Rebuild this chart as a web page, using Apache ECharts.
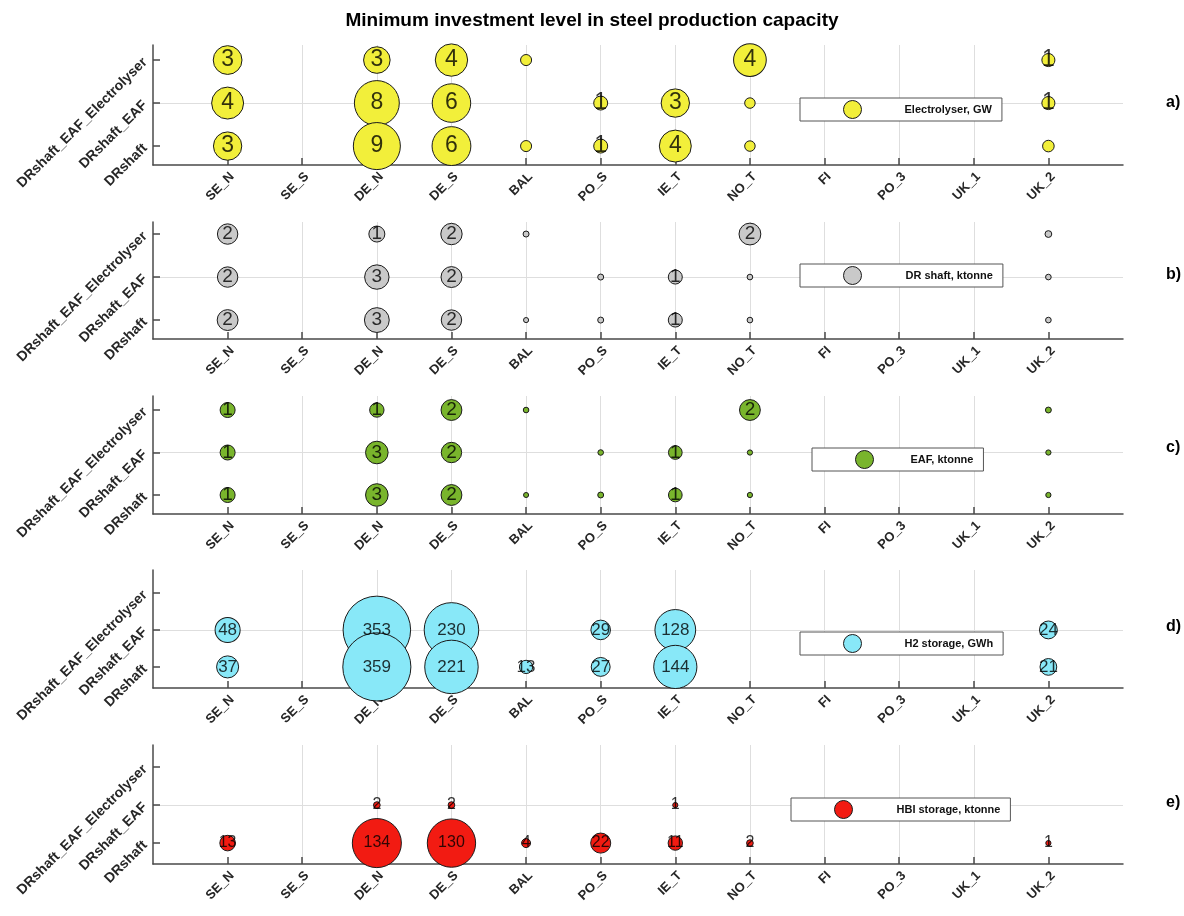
<!DOCTYPE html>
<html>
<head>
<meta charset="utf-8">
<title>Minimum investment level in steel production capacity</title>
<script src="https://cdn.jsdelivr.net/npm/echarts@6/dist/echarts.min.js"></script>
<style>
  html, body { margin: 0; padding: 0; background: #fff; }
  #chart { width: 1184px; height: 916px; }
</style>
</head>
<body>
<div id="chart"></div>
<script>
// Regions on the x axis and technology routes on the y axis
const regions = ['SE_N', 'SE_S', 'DE_N', 'DE_S', 'BAL', 'PO_S', 'IE_T', 'NO_T', 'FI', 'PO_3', 'UK_1', 'UK_2'];
const routes = ['DRshaft', 'DRshaft_EAF', 'DRshaft_EAF_Electrolyser'];

// a) Electrolyser, GW  (null = no investment)
const elecDRshaft     = [3.2, null, 9.0, 6.1, 0.4, 0.7, 4.1, 0.35, null, null, null, 0.45];
const elecDRshaftEAF  = [4.1, null, 8.2, 6.0, null, 0.7, 3.2, 0.35, null, null, null, 0.6];
const elecDRshaftEAFE = [3.3, null, 2.8, 4.2, 0.4, null, null, 4.3, null, null, null, 0.6];

// b) DR shaft, ktonne
const shaftDRshaft     = [2.1, null, 3.0, 2.0, 0.05, 0.1, 0.9, 0.08, null, null, null, 0.08];
const shaftDRshaftEAF  = [2.0, null, 2.9, 2.1, null, 0.1, 0.9, 0.08, null, null, null, 0.08];
const shaftDRshaftEAFE = [2.0, null, 1.2, 2.2, 0.1, null, null, 2.3, null, null, null, 0.15];

// c) EAF, ktonne
const eafDRshaft     = [1.1, null, 2.6, 2.2, 0.05, 0.1, 0.9, 0.06, null, null, null, 0.06];
const eafDRshaftEAF  = [1.1, null, 2.6, 2.1, null, 0.08, 0.9, 0.06, null, null, null, 0.06];
const eafDRshaftEAFE = [1.1, null, 1.0, 2.2, 0.08, null, null, 2.2, null, null, null, 0.1];

// d) H2 storage, GWh
const h2DRshaft     = [37, null, 359, 221, 13, 27, 144, null, null, null, null, 21];
const h2DRshaftEAF  = [48, null, 353, 230, null, 29, 128, null, null, null, null, 24];
const h2DRshaftEAFE = [null, null, null, null, null, null, null, null, null, null, null, null];

// e) HBI storage, ktonne
const hbiDRshaft     = [13, null, 134, 130, 4, 22, 11, 2, null, null, null, 1];
const hbiDRshaftEAF  = [null, null, 2, 2, null, null, 1, null, null, null, null, null];
const hbiDRshaftEAFE = [null, null, null, null, null, null, null, null, null, null, null, null];

const panelNames = ['Electrolyser, GW', 'DR shaft, ktonne', 'EAF, ktonne', 'H2 storage, GWh', 'HBI storage, ktonne'];
const panelTags = ['a)', 'b)', 'c)', 'd)', 'e)'];
const panelRows = [
  [elecDRshaft, elecDRshaftEAF, elecDRshaftEAFE],
  [shaftDRshaft, shaftDRshaftEAF, shaftDRshaftEAFE],
  [eafDRshaft, eafDRshaftEAF, eafDRshaftEAFE],
  [h2DRshaft, h2DRshaftEAF, h2DRshaftEAFE],
  [hbiDRshaft, hbiDRshaftEAF, hbiDRshaftEAFE]
];

// ---- styling / layout ----
const FONT = '"Liberation Sans", Arial, Helvetica, sans-serif';
const fills = ['#f2ef3a', '#c9c9c9', '#79b52c', '#88e8f8', '#f21b12'];
const EDGE = '#1a1a1a';
// bubble diameter: d = sqrt(d0^2 + c * value)
const sizeParams = [[5, 243], [4, 200], [4, 190], [3, 12.9], [3, 17.9]];
const labelSizes = [23, 19, 19, 17, 16];
const grids = [
  { top: 45, height: 120, min: 0.56, max: 3.35 },
  { top: 222, height: 117, min: 0.56, max: 3.28 },
  { top: 396, height: 118, min: 0.553, max: 3.33 },
  { top: 570, height: 118, min: 0.43, max: 3.62 },
  { top: 745, height: 119, min: 0.45, max: 3.58 }
];
const legendBoxes = [
  { left: 800, top: 98, gap: 38 },
  { left: 800, top: 264, gap: 39 },
  { left: 812, top: 448, gap: 32 },
  { left: 800, top: 632, gap: 38 },
  { left: 791, top: 798, gap: 39 }
];
const tagTops = [90, 262, 435, 614, 790];

const AXIS_COLOR = '#4a4a4a';
const GRID_COLOR = '#dedede';
const xTickValues = regions.map((_, i) => i + 1);
const yTickValues = routes.map((_, i) => i + 1);

const option = {
  animation: false,
  backgroundColor: '#ffffff',
  textStyle: { fontFamily: FONT },
  title: [
    {
      text: 'Minimum investment level in steel production capacity',
      left: 'center', top: 6,
      textStyle: { fontFamily: FONT, fontSize: 19, fontWeight: 'bold', color: '#000' }
    }
  ].concat(panelTags.map((t, i) => ({
    text: t, left: 1161, top: tagTops[i],
    textStyle: { fontFamily: FONT, fontSize: 16, fontWeight: 'bold', color: '#000' }
  }))),
  legend: panelNames.map((name, i) => ({
    data: [{
      name: name,
      icon: 'circle',
      itemStyle: { color: fills[i], borderColor: EDGE, borderWidth: 1, opacity: 1 }
    }],
    left: legendBoxes[i].left,
    top: legendBoxes[i].top,
    orient: 'horizontal',
    itemWidth: 18,
    itemHeight: 18,
    padding: [2, 10, 2, 43],
    backgroundColor: '#fff',
    borderColor: '#555',
    borderWidth: 1,
    borderRadius: 0,
    selectedMode: false,
    textStyle: {
      fontFamily: FONT, fontSize: 11, fontWeight: 'bold', color: '#111',
      padding: [0, 0, 0, legendBoxes[i].gap]
    }
  })),
  grid: grids.map(g => ({ left: 153, width: 970, top: g.top, height: g.height, containLabel: false })),
  xAxis: grids.map((g, i) => ({
    type: 'value', gridIndex: i, min: 0, max: 13, interval: 1,
    axisLine: { show: true, lineStyle: { color: AXIS_COLOR, width: 1.5 } },
    axisTick: { show: true, inside: true, length: 7, customValues: xTickValues, lineStyle: { color: AXIS_COLOR, width: 1.5 } },
    splitLine: { show: true, showMinLine: false, showMaxLine: false, lineStyle: { color: GRID_COLOR, width: 1 } },
    axisLabel: {
      show: true, rotate: 45, margin: 5, customValues: xTickValues,
      verticalAlign: 'top',
      fontFamily: FONT, fontSize: 13, fontWeight: 'bold', color: '#262626',
      formatter: v => regions[Math.round(v) - 1] || ''
    }
  })),
  yAxis: grids.map((g, i) => ({
    type: 'value', gridIndex: i, min: g.min, max: g.max,
    axisLine: { show: true, lineStyle: { color: AXIS_COLOR, width: 1.5 } },
    axisTick: { show: true, inside: true, length: 7, customValues: yTickValues, lineStyle: { color: AXIS_COLOR, width: 1.5 } },
    splitLine: { show: true, showMinLine: false, showMaxLine: false, lineStyle: { color: GRID_COLOR, width: 1 } },
    axisLabel: {
      show: true, rotate: 45, margin: 8, customValues: yTickValues,
      fontFamily: FONT, fontSize: 14, fontWeight: 'bold', color: '#262626',
      formatter: v => routes[Math.round(v) - 1] || ''
    }
  })),
  series: []
};

// Bubbles are drawn top row first, so the lower row overlaps it; values are written in a layer above
panelRows.forEach((rows, p) => {
  const [d0, c] = sizeParams[p];
  const data = [];
  for (let t = rows.length - 1; t >= 0; t--) {
    rows[t].forEach((v, r) => {
      if (v !== null && v !== undefined) data.push([r + 1, t + 1, v]);
    });
  }
  option.series.push({
    name: panelNames[p],
    type: 'scatter',
    xAxisIndex: p, yAxisIndex: p,
    clip: false,
    data: data,
    symbol: 'circle',
    symbolSize: val => Math.sqrt(d0 * d0 + c * val[2]),
    itemStyle: { color: fills[p], borderColor: EDGE, borderWidth: 1, opacity: 1 },
    emphasis: { disabled: true },
    z: 2
  });
  option.series.push({
    name: panelNames[p] + ' values',
    type: 'scatter',
    xAxisIndex: p, yAxisIndex: p,
    clip: false,
    silent: true,
    data: data,
    symbol: 'circle',
    symbolSize: 1,
    itemStyle: { color: 'rgba(0,0,0,0)', borderWidth: 0 },
    label: {
      show: true, position: 'inside',
      fontFamily: FONT, fontSize: labelSizes[p], color: '#000',
      formatter: prm => {
        const n = Math.round(prm.value[2]);
        return n >= 1 ? String(n) : '';
      }
    },
    emphasis: { disabled: true },
    z: 5
  });
});

const chart = echarts.init(document.getElementById('chart'), null, { renderer: 'canvas' });
chart.setOption(option);
</script>
</body>
</html>
